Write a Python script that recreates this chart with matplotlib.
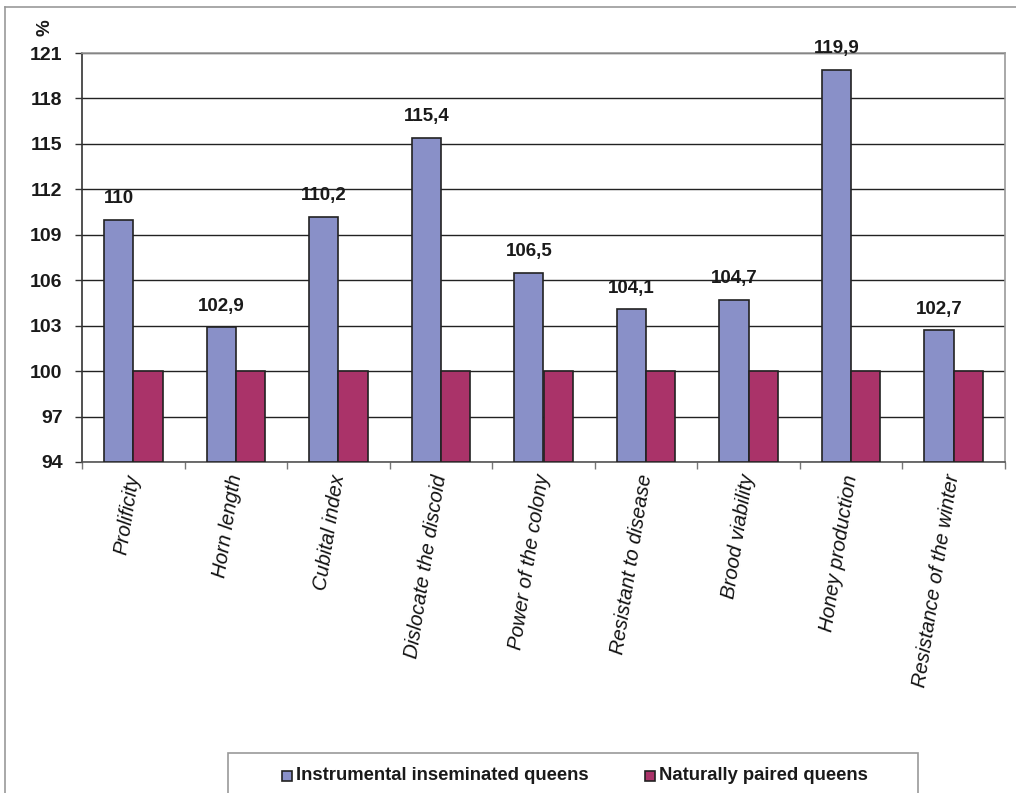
import matplotlib
matplotlib.use("Agg")
import matplotlib.pyplot as plt
from matplotlib.patches import Rectangle
from matplotlib.lines import Line2D
import numpy as np

categories = ["Prolificity", "Horn length", "Cubital index", "Dislocate the discoid",
              "Power of the colony", "Resistant to disease", "Brood viability",
              "Honey production", "Resistance of the winter"]
inseminated = [110, 102.9, 110.2, 115.4, 106.5, 104.1, 104.7, 119.9, 102.7]
natural = [100, 100, 100, 100, 100, 100, 100, 100, 100]
value_labels = ["110", "102,9", "110,2", "115,4", "106,5", "104,1", "104,7", "119,9", "102,7"]
yticks = [94, 97, 100, 103, 106, 109, 112, 115, 118, 121]
series_names = ["Instrumental inseminated queens", "Naturally paired queens"]

BLUE = "#8990C8"
RED = "#AA3369"
W, H = 1016, 793

plt.rcParams['font.family'] = ['Liberation Sans', 'DejaVu Sans']

fig = plt.figure(figsize=(W / 100, H / 100), dpi=100)
ax = fig.add_axes([82 / W, 1 - 462 / H, (1005 - 82) / W, (462 - 53) / H])

x = np.arange(len(categories))
bw = 0.285
ax.bar(x - bw / 2, np.array(inseminated) - 94, bw, bottom=94, color=BLUE,
       edgecolor="#222222", linewidth=1.2, zorder=3)
ax.bar(x + bw / 2, np.array(natural) - 94, bw, bottom=94, color=RED,
       edgecolor="#222222", linewidth=1.2, zorder=3)

for xi, v, lab in zip(x, inseminated, value_labels):
    ax.annotate(lab, (xi - bw / 2, v), xytext=(0, 9), textcoords="offset points",
                ha="center", va="bottom", fontsize=13.5, fontweight="bold", color="#1a1a1a")

ax.set_ylim(94, 121)
ax.set_xlim(-0.5, len(categories) - 0.5)
ax.set_yticks(yticks)
ax.set_yticklabels([str(t) for t in yticks], fontsize=14, fontweight="bold", color="#1a1a1a")
ax.yaxis.grid(True, color="#222222", linewidth=1.0, zorder=0)
ax.set_axisbelow(True)

ax.set_xticks(x)
ax.set_xticklabels(categories, rotation=81, ha="right", va="center",
                   rotation_mode="anchor", fontsize=14.5, fontstyle="italic", color="#111111")
ax.tick_params(axis="x", which="major", length=0, pad=9)
ax.set_xticks(np.arange(-0.5, len(categories), 1.0), minor=True)
ax.tick_params(axis="x", which="minor", length=5, color="#777777", width=1)
ax.tick_params(axis="y", length=5, color="#333333", width=1, pad=9)

ax.spines["left"].set_color("#333333")
ax.spines["bottom"].set_color("#555555")
ax.spines["top"].set_color("#999999")
ax.spines["right"].set_color("#999999")
for s in ax.spines.values():
    s.set_linewidth(1.2)

fig.text(45 / W, 1 - 28 / H, "%", rotation=90, ha="center", va="center",
         fontsize=13.5, fontweight="bold", color="#1a1a1a")

# outer border (left and top visible)
fig.add_artist(Line2D([5 / W, 5 / W], [0, 1 - 7 / H], transform=fig.transFigure,
                      color="#999999", linewidth=1.2))
fig.add_artist(Line2D([5 / W, 1], [1 - 7 / H, 1 - 7 / H], transform=fig.transFigure,
                      color="#999999", linewidth=1.2))

# legend box and entries
fig.add_artist(Rectangle((228 / W, 1 - 800 / H), (918 - 228) / W, (800 - 753) / H,
                         transform=fig.transFigure, facecolor="white",
                         edgecolor="#999999", linewidth=1.2))
legend_items = [(282, BLUE, series_names[0]), (645, RED, series_names[1])]
for px, col, name in legend_items:
    fig.add_artist(Rectangle((px / W, 1 - 781 / H), 10 / W, 10 / H,
                             transform=fig.transFigure, facecolor=col,
                             edgecolor="#222222", linewidth=1.2))
    fig.text((px + 14) / W, 1 - 776 / H, name, ha="left", va="center",
             fontsize=13.3, fontweight="bold", color="#1a1a1a")

fig.savefig("out.png", dpi=100)
